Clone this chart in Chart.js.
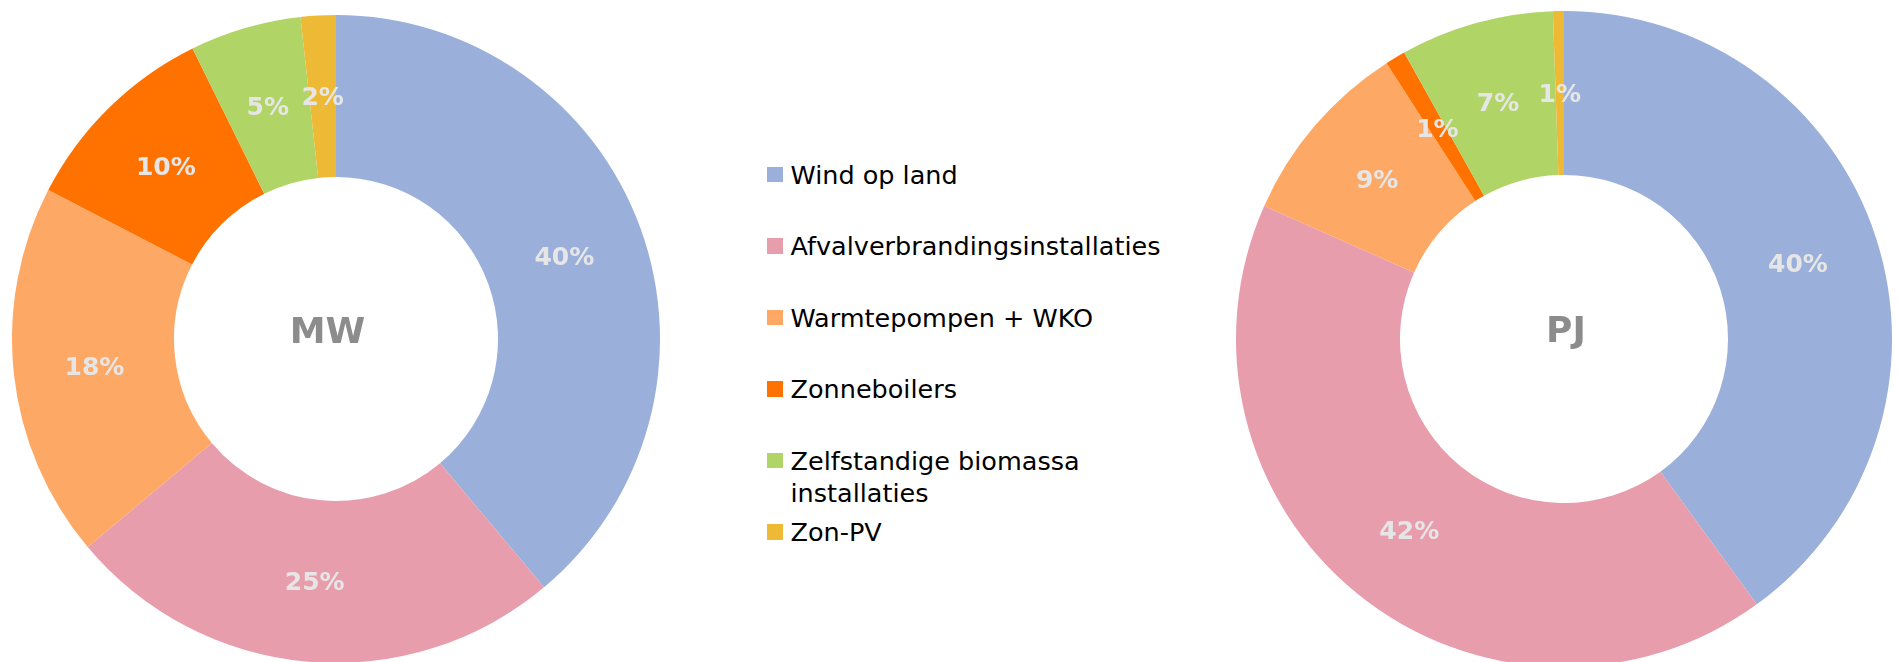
<!DOCTYPE html>
<html>
<head>
<meta charset="utf-8">
<script src="https://cdn.jsdelivr.net/npm/chart.js@4.4.1/dist/chart.umd.min.js"></script>
<style>
  html, body { margin: 0; padding: 0; background: #fff; overflow: hidden; }
  body { position: relative; width: 1898px; height: 662px; font-family: "DejaVu Sans", Verdana, sans-serif; }
  .box { position: absolute; }
  #mwBox { left: 12px; top: 15px; width: 648px; height: 648px; }
  #pjBox { left: 1236px; top: 11px; width: 656px; height: 656px; }
  #legend { position: absolute; left: 767px; top: 0; width: 440px; }
  .item { position: absolute; left: 0; display: flex; align-items: flex-start; }
  .swatch { width: 15.5px; height: 15.5px; margin-top: 8px; flex: none; }
  .text { margin-left: 8px; width: 400px; font-size: 25.5px; line-height: 32px; color: #000; }
</style>
</head>
<body>
<div class="box" id="mwBox"><canvas id="mwChart"></canvas></div>
<div class="box" id="pjBox"><canvas id="pjChart"></canvas></div>
<div id="legend"></div>
<script>
const categories = [
  'Wind op land',
  'Afvalverbrandingsinstallaties',
  'Warmtepompen + WKO',
  'Zonneboilers',
  'Zelfstandige biomassa installaties',
  'Zon-PV'
];
const colors = ['#9AB0DA', '#E89DAC', '#FEA865', '#FF7200', '#B0D466', '#EEBA35'];

// share of each source
const mwShares = [38.9, 25.0, 18.7, 10.1, 5.55, 1.75];
const pjShares = [40.0, 41.65, 9.25, 1.0, 7.56, 0.54];

// data label texts as printed in the slices
const mwLabels = ['40%', '25%', '18%', '10%', '5%', '2%'];
const pjLabels = ['40%', '42%', '9%', '1%', '7%', '1%'];

Chart.defaults.font.family = '"DejaVu Sans", Verdana, sans-serif';

const sliceLabels = {
  id: 'sliceLabels',
  afterDatasetsDraw(chart, args, opts) {
    const ctx = chart.ctx;
    const arcs = chart.getDatasetMeta(0).data;
    ctx.save();
    ctx.textAlign = 'center';
    ctx.textBaseline = 'alphabetic';
    ctx.font = 'bold 25px "DejaVu Sans"';
    ctx.fillStyle = '#E6E6E6';
    arcs.forEach((arc, i) => {
      const p = arc.getCenterPoint();
      ctx.fillText(opts.labels[i], p.x, p.y + 25 * 0.729 / 2);
    });
    const c = arcs[0];
    ctx.font = 'bold 36px "DejaVu Sans"';
    ctx.fillStyle = '#8C8C8C';
    ctx.fillText(opts.title, c.x + opts.titleDx, c.y + opts.titleDy + 36 * 0.729 / 2);
    ctx.restore();
  }
};

function makeDonut(id, shares, labels, title, titleDx, titleDy) {
  const ctx = document.getElementById(id).getContext('2d');
  return new Chart(ctx, {
    type: 'doughnut',
    data: {
      labels: categories,
      datasets: [{
        data: shares,
        backgroundColor: colors,
        borderWidth: 0
      }]
    },
    options: {
      responsive: true,
      maintainAspectRatio: false,
      animation: false,
      events: [],
      cutout: '50%',
      layout: { padding: 0 },
      plugins: {
        legend: { display: false },
        tooltip: { enabled: false },
        sliceLabels: { labels: labels, title: title, titleDx: titleDx, titleDy: titleDy }
      }
    },
    plugins: [sliceLabels]
  });
}

makeDonut('mwChart', mwShares, mwLabels, 'MW', -8.5, -9);
makeDonut('pjChart', pjShares, pjLabels, 'PJ', 2, -10.5);

// legend between the two rings
const legend = document.getElementById('legend');
categories.forEach((name, i) => {
  const item = document.createElement('div');
  item.className = 'item';
  item.style.top = (174 - 15.5 + i * 71.5) + 'px';
  const sw = document.createElement('div');
  sw.className = 'swatch';
  sw.style.background = colors[i];
  const tx = document.createElement('div');
  tx.className = 'text';
  tx.textContent = name;
  item.appendChild(sw);
  item.appendChild(tx);
  legend.appendChild(item);
});
</script>
</body>
</html>
